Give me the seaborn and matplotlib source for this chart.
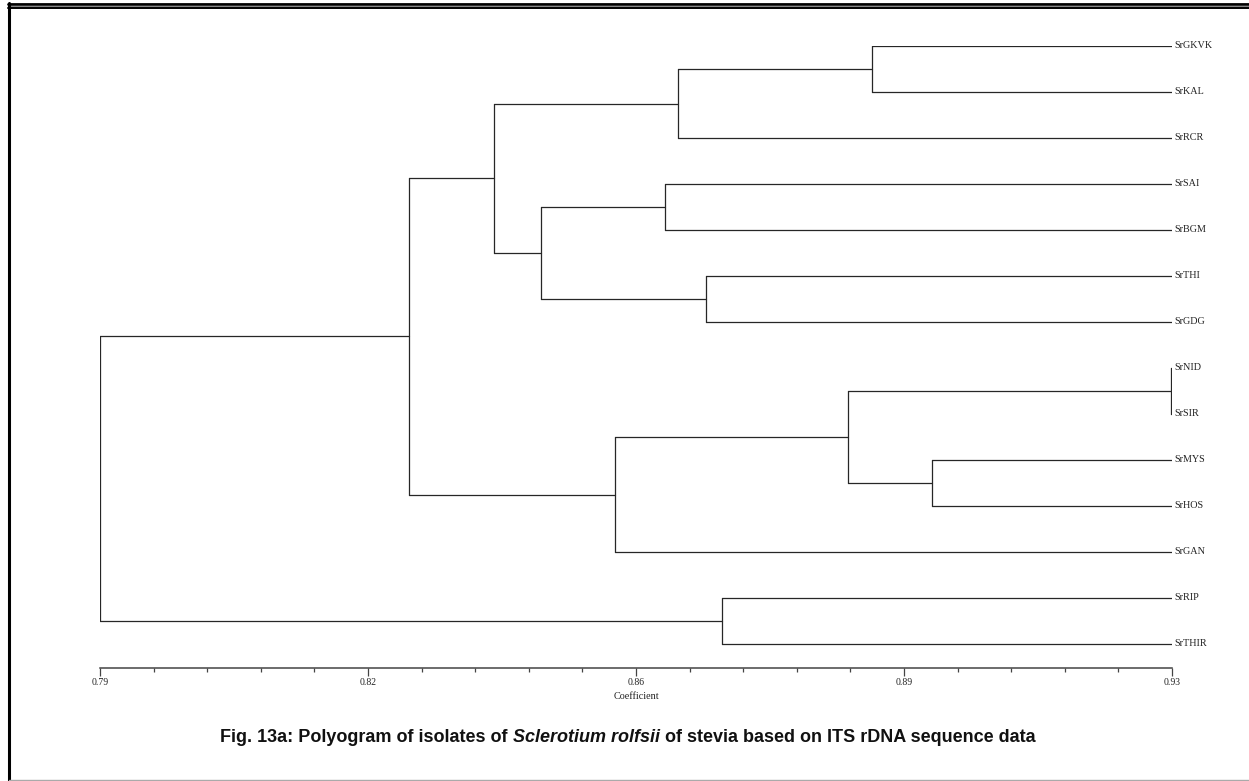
import numpy as np
import pandas as pd
import matplotlib
matplotlib.use("Agg")
import matplotlib.pyplot as plt
from matplotlib.lines import Line2D
from matplotlib.ticker import FixedLocator
import seaborn as sns

# ---------------- data ----------------
leaves = ["SrGKVK", "SrKAL", "SrRCR", "SrSAI", "SrBGM", "SrTHI", "SrGDG",
          "SrNID", "SrSIR", "SrMYS", "SrHOS", "SrGAN", "SrRIP", "SrTHIR"]
# merges: (child_a, child_b, similarity coefficient); nodes named by index N0..
merge_a = ["SrGKVK", "N0", "SrSAI", "SrTHI", "N2", "N1", "SrNID", "SrMYS", "N6", "N8", "N5", "SrRIP", "N10"]
merge_b = ["SrKAL", "SrRCR", "SrBGM", "SrGDG", "N3", "N4", "SrSIR", "SrHOS", "N7", "SrGAN", "N9", "SrTHIR", "N11"]
merge_h = [0.8908, 0.8655, 0.8638, 0.8691, 0.8476, 0.8415, 0.9299, 0.8987, 0.8877, 0.8573, 0.8304, 0.8712, 0.7900]
leaf_level = 0.93
tick_values = [0.79, 0.825, 0.86, 0.895, 0.93]
tick_labels = ["0.79", "0.82", "0.86", "0.89", "0.93"]

# ---------------- build segments ----------------
pos = {name: (leaf_level, float(i)) for i, name in enumerate(leaves)}
rows = []
seg = 0
for k, (a, b, h) in enumerate(zip(merge_a, merge_b, merge_h)):
    xa, ya = pos[a]
    xb, yb = pos[b]
    for (xc, yc) in [(xa, ya), (xb, yb)]:
        rows.append((seg, xc, yc)); rows.append((seg, h, yc)); seg += 1
    rows.append((seg, h, ya)); rows.append((seg, h, yb)); seg += 1
    pos[f"N{k}"] = (h, (ya + yb) / 2)
df = pd.DataFrame(rows, columns=["seg", "x", "y"])

# ---------------- figure ----------------
sns.set_theme(style="white")
plt.rcParams["font.family"] = ["Liberation Serif", "DejaVu Serif"]
W, H = 1249, 781
fig = plt.figure(figsize=(W / 100, H / 100), dpi=100)
fig.patch.set_facecolor("white")

x0p, x1p = 100, 1172
ytop, ybase = 46, 668
ax = fig.add_axes([x0p / W, 1 - ybase / H, (x1p - x0p) / W, (ybase - ytop) / H])
ax.set_facecolor("none")
lc = "#262626"
sns.lineplot(data=df, x="x", y="y", units="seg", estimator=None, sort=False,
             color=lc, linewidth=0.9, ax=ax, legend=False)
ymax = (ybase - ytop) / 46.0
ax.set_xlim(0.79, 0.93)
ax.set_ylim(ymax, 0)

for i, name in enumerate(leaves):
    ax.text(0.9303, i, name, fontsize=7.3, va="center", ha="left", color="#222222",
            clip_on=False)

for s in ["top", "left", "right"]:
    ax.spines[s].set_visible(False)
ax.spines["bottom"].set_color("#444444")
ax.spines["bottom"].set_linewidth(1.1)
ax.set_yticks([])
ax.xaxis.set_major_locator(FixedLocator(tick_values))
ax.set_xticklabels(tick_labels)
minor = [v for v in np.linspace(tick_values[0], tick_values[-1], 21)
         if min(abs(v - t) for t in tick_values) > 1e-6]
ax.xaxis.set_minor_locator(FixedLocator(minor))
ax.tick_params(axis="x", which="major", bottom=True, direction="out", length=5.5,
               width=0.9, color="#444444", labelsize=7, pad=2, labelcolor="#222222")
ax.tick_params(axis="x", which="minor", bottom=True, direction="out", length=3,
               width=0.9, color="#444444")
ax.set_xlabel("Coefficient", fontsize=7.3, labelpad=3, color="#222222")
ax.set_ylabel("")

# ---------------- caption ----------------
cap_font = ["Liberation Sans", "DejaVu Sans"]
parts = [("Fig. 13a: Polyogram of isolates of ", "normal"),
         ("Sclerotium rolfsii", "italic"),
         (" of stevia based on ITS rDNA sequence data", "normal")]
fig.canvas.draw()
renderer = fig.canvas.get_renderer()
cy = 1 - 738 / H
texts = []
xcur = 0.0
for txt, style in parts:
    t = fig.text(xcur, cy, txt, fontsize=13, fontweight="bold", style=style,
                 family=cap_font, va="center", ha="left", color="#111111")
    bb = t.get_window_extent(renderer)
    texts.append(t)
    xcur += bb.width / W
total = xcur
start = 628 / W - total / 2
xcur = start
for t in texts:
    bb = t.get_window_extent(renderer)
    t.set_x(xcur)
    xcur += bb.width / W

# ---------------- frame ----------------
def hline(ypix, x0, x1, lw, color):
    fig.add_artist(Line2D([x0 / W, x1 / W], [1 - ypix / H, 1 - ypix / H],
                          transform=fig.transFigure, linewidth=lw, color=color))

def vline(xpix, y0, y1, lw, color):
    fig.add_artist(Line2D([xpix / W, xpix / W], [1 - y0 / H, 1 - y1 / H],
                          transform=fig.transFigure, linewidth=lw, color=color))

hline(4, 8, W, 2.0, "#000000")
hline(6.2, 8, W, 1.0, "#888888")
hline(8, 8, W, 1.4, "#000000")
vline(9, 3, H, 2.2, "#000000")
hline(779.5, 9, W, 1.0, "#aaaaaa")

fig.savefig("out.png", dpi=100, facecolor="white")
